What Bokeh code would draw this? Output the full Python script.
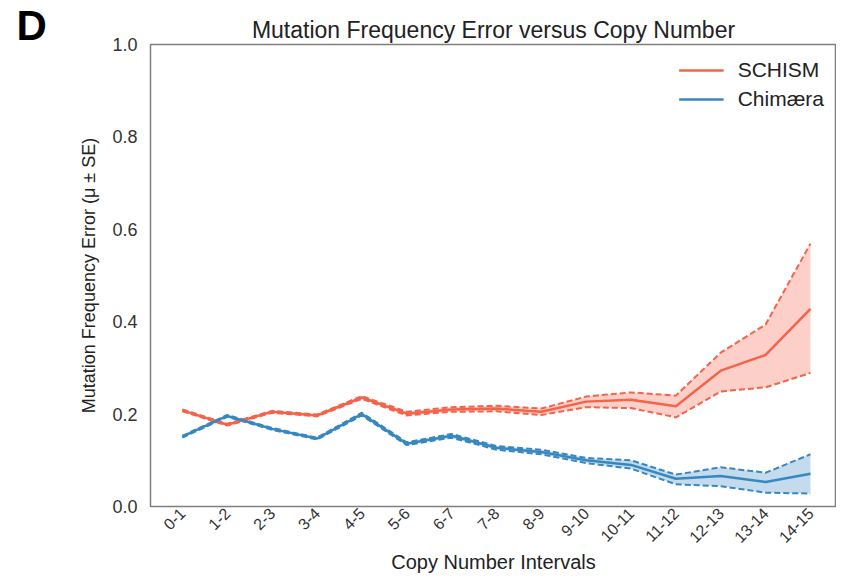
import math
from bokeh.plotting import figure
from bokeh.models import Range1d, FixedTicker, Label, Legend, LegendItem, ColumnDataSource
from bokeh.embed import file_html
from bokeh.resources import INLINE

intervals = ["0-1", "1-2", "2-3", "3-4", "4-5", "5-6", "6-7", "7-8", "8-9",
             "9-10", "10-11", "11-12", "12-13", "13-14", "14-15"]

schism_mean  = [0.208, 0.177, 0.205, 0.197, 0.236, 0.201, 0.210, 0.212, 0.205,
                0.227, 0.231, 0.217, 0.294, 0.328, 0.428]
schism_upper = [0.210, 0.179, 0.207, 0.199, 0.239, 0.205, 0.215, 0.218, 0.212,
                0.238, 0.247, 0.240, 0.333, 0.394, 0.569]
schism_lower = [0.206, 0.175, 0.203, 0.195, 0.233, 0.197, 0.205, 0.206, 0.198,
                0.215, 0.213, 0.193, 0.249, 0.258, 0.289]

chim_mean  = [0.151, 0.196, 0.168, 0.147, 0.200, 0.136, 0.153, 0.127, 0.118,
              0.100, 0.090, 0.060, 0.066, 0.053, 0.071]
chim_upper = [0.153, 0.198, 0.170, 0.149, 0.203, 0.139, 0.157, 0.131, 0.123,
              0.105, 0.100, 0.069, 0.085, 0.073, 0.113]
chim_lower = [0.149, 0.194, 0.166, 0.145, 0.197, 0.133, 0.149, 0.123, 0.113,
              0.094, 0.082, 0.048, 0.044, 0.030, 0.028]

y_ticks = [0.0, 0.2, 0.4, 0.6, 0.8, 1.0]

RED = "#f4634a"
BLUE = "#3787c0"
FONT = "Liberation Sans"

x = list(range(len(intervals)))
X_START, X_END = -0.71, len(intervals) - 1 + 0.58

p = figure(width=836, height=575, output_backend="svg", toolbar_location=None,
           x_range=Range1d(X_START, X_END), y_range=Range1d(0, 1.0),
           min_border_left=150, min_border_right=0, min_border_top=44, min_border_bottom=67)

p.title.text = "Mutation Frequency Error versus Copy Number"
p.title.align = "center"
p.title.text_font = FONT
p.title.text_font_size = "23px"
p.title.text_font_style = "normal"
p.title.text_color = "#222222"
p.title.standoff = 4

p.grid.visible = False
p.outline_line_color = "#7f7f7f"
p.outline_line_width = 1.5

for ax in (p.xaxis[0], p.yaxis[0]):
    ax.axis_line_color = None
    ax.major_tick_line_color = None
    ax.minor_tick_line_color = None
    ax.major_tick_out = 0
    ax.major_tick_in = 0
    ax.minor_tick_out = 0
    ax.minor_tick_in = 0
    ax.major_label_text_font = FONT
    ax.major_label_text_color = "#333333"
    ax.axis_label_text_font = FONT
    ax.axis_label_text_font_style = "normal"
    ax.axis_label_text_color = "#222222"

p.xaxis.ticker = FixedTicker(ticks=x)
p.xaxis.major_label_overrides = {i: lab for i, lab in enumerate(intervals)}
p.xaxis.major_label_orientation = math.pi / 4
p.xaxis.major_label_text_font_size = "16px"
p.xaxis.axis_label = "Copy Number Intervals"
p.xaxis.axis_label_text_font_size = "20px"
p.xaxis.major_label_standoff = 4
p.xaxis.axis_label_standoff = 0

p.yaxis.ticker = FixedTicker(ticks=y_ticks)
p.yaxis.major_label_overrides = {t: f"{t:.1f}" for t in y_ticks}
p.yaxis.major_label_text_font_size = "18px"
p.yaxis.axis_label = "Mutation Frequency Error (\u03bc \u00b1 SE)"
p.yaxis.axis_label_text_font_size = "18px"
p.yaxis.major_label_standoff = 13
p.yaxis.axis_label_standoff = 10

src = ColumnDataSource(dict(x=x, sm=schism_mean, su=schism_upper, sl=schism_lower,
                            cm=chim_mean, cu=chim_upper, cl=chim_lower))

p.varea(x="x", y1="sl", y2="su", source=src, fill_color=RED, fill_alpha=0.3)
p.varea(x="x", y1="cl", y2="cu", source=src, fill_color=BLUE, fill_alpha=0.3)

for col, c in (("su", RED), ("sl", RED), ("cu", BLUE), ("cl", BLUE)):
    p.line(x="x", y=col, source=src, line_color=c, line_width=2, line_dash="6 3")

r_s = p.line(x="x", y="sm", source=src, line_color=RED, line_width=2.5)
r_c = p.line(x="x", y="cm", source=src, line_color=BLUE, line_width=2.5)

legend = Legend(items=[LegendItem(label="SCHISM", renderers=[r_s]),
                       LegendItem(label="Chim\u00e6ra", renderers=[r_c])],
                location="top_right", border_line_color=None, background_fill_alpha=0,
                label_text_font=FONT, label_text_font_size="21px", label_text_color="#222222",
                glyph_width=45, glyph_height=28, label_height=28, spacing=1,
                margin=12, padding=6, label_standoff=14)
p.add_layout(legend)

# panel letter, placed in the left side panel so that it is not clipped to the frame
px_per_unit = (836 - 150) / (X_END - X_START)
d = Label(x=X_START + (16 - 150) / px_per_unit, y=1.0 + 19 / 462, text="D",
          text_baseline="alphabetic",
          text_font=FONT, text_font_size="42px", text_font_style="bold", text_color="black")
p.add_layout(d, "left")

open("out.html", "w").write(file_html(p, INLINE))
